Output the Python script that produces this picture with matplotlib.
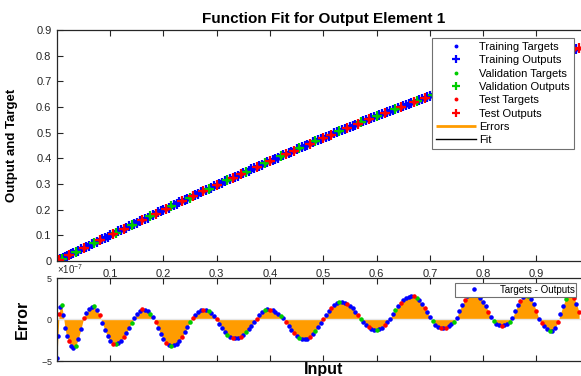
import numpy as np
import matplotlib.pyplot as plt
from matplotlib.ticker import ScalarFormatter

# sample inputs (denser near the start)
inputs = [0.000, 0.002, 0.004, 0.006, 0.009, 0.012, 0.015, 0.018, 0.022, 0.026,
          0.030, 0.035, 0.040, 0.045, 0.050, 0.055, 0.060, 0.065, 0.070, 0.075,
          0.080, 0.085, 0.090, 0.095, 0.100, 0.105, 0.110, 0.115, 0.120, 0.125,
          0.130, 0.135, 0.140, 0.145, 0.150, 0.155, 0.160, 0.165, 0.170, 0.175,
          0.180, 0.185, 0.190, 0.195, 0.200, 0.205, 0.210, 0.215, 0.220, 0.225,
          0.230, 0.235, 0.240, 0.245, 0.250, 0.255, 0.260, 0.265, 0.270, 0.275,
          0.280, 0.285, 0.290, 0.295, 0.300, 0.305, 0.310, 0.315, 0.320, 0.325,
          0.330, 0.335, 0.340, 0.345, 0.350, 0.355, 0.360, 0.365, 0.370, 0.375,
          0.380, 0.385, 0.390, 0.395, 0.400, 0.405, 0.410, 0.415, 0.420, 0.425,
          0.430, 0.435, 0.440, 0.445, 0.450, 0.455, 0.460, 0.465, 0.470, 0.475,
          0.480, 0.485, 0.490, 0.495, 0.500, 0.505, 0.510, 0.515, 0.520, 0.525,
          0.530, 0.535, 0.540, 0.545, 0.550, 0.555, 0.560, 0.565, 0.570, 0.575,
          0.580, 0.585, 0.590, 0.595, 0.600, 0.605, 0.610, 0.615, 0.620, 0.625,
          0.630, 0.635, 0.640, 0.645, 0.650, 0.655, 0.660, 0.665, 0.670, 0.675,
          0.680, 0.685, 0.690, 0.695, 0.700, 0.705, 0.710, 0.715, 0.720, 0.725,
          0.730, 0.735, 0.740, 0.745, 0.750, 0.755, 0.760, 0.765, 0.770, 0.775,
          0.780, 0.785, 0.790, 0.795, 0.800, 0.805, 0.810, 0.815, 0.820, 0.825,
          0.830, 0.835, 0.840, 0.845, 0.850, 0.855, 0.860, 0.865, 0.870, 0.875,
          0.880, 0.885, 0.890, 0.895, 0.900, 0.905, 0.910, 0.915, 0.920, 0.925,
          0.930, 0.935, 0.940, 0.945, 0.950, 0.955, 0.960, 0.965, 0.970, 0.975,
          0.980]

targets = [0.000, 0.002, 0.004, 0.006, 0.009, 0.012, 0.015, 0.018, 0.022, 0.026,
           0.030, 0.035, 0.040, 0.045, 0.050, 0.055, 0.060, 0.065, 0.070, 0.075,
           0.080, 0.085, 0.090, 0.095, 0.100, 0.105, 0.110, 0.115, 0.120, 0.125,
           0.130, 0.135, 0.140, 0.144, 0.149, 0.154, 0.159, 0.164, 0.169, 0.174,
           0.179, 0.184, 0.189, 0.194, 0.199, 0.204, 0.208, 0.213, 0.218, 0.223,
           0.228, 0.233, 0.238, 0.243, 0.247, 0.252, 0.257, 0.262, 0.267, 0.272,
           0.276, 0.281, 0.286, 0.291, 0.296, 0.300, 0.305, 0.310, 0.315, 0.319,
           0.324, 0.329, 0.333, 0.338, 0.343, 0.348, 0.352, 0.357, 0.362, 0.366,
           0.371, 0.375, 0.380, 0.385, 0.389, 0.394, 0.399, 0.403, 0.408, 0.412,
           0.417, 0.421, 0.426, 0.430, 0.435, 0.439, 0.444, 0.448, 0.453, 0.457,
           0.462, 0.466, 0.471, 0.475, 0.479, 0.484, 0.488, 0.492, 0.497, 0.501,
           0.506, 0.510, 0.514, 0.518, 0.523, 0.527, 0.531, 0.535, 0.540, 0.544,
           0.548, 0.552, 0.556, 0.560, 0.565, 0.569, 0.573, 0.577, 0.581, 0.585,
           0.589, 0.593, 0.597, 0.601, 0.605, 0.609, 0.613, 0.617, 0.621, 0.625,
           0.629, 0.633, 0.637, 0.640, 0.644, 0.648, 0.652, 0.656, 0.659, 0.663,
           0.667, 0.671, 0.674, 0.678, 0.682, 0.685, 0.689, 0.692, 0.696, 0.699,
           0.703, 0.706, 0.710, 0.713, 0.717, 0.721, 0.724, 0.727, 0.731, 0.734,
           0.738, 0.741, 0.745, 0.748, 0.751, 0.754, 0.758, 0.761, 0.764, 0.767,
           0.771, 0.774, 0.777, 0.780, 0.783, 0.786, 0.790, 0.793, 0.796, 0.799,
           0.802, 0.805, 0.808, 0.810, 0.813, 0.816, 0.819, 0.822, 0.825, 0.828,
           0.830]

# targets - outputs, in units of 1e-7
errors = [-4.70, -2.00, 0.60, 1.50, 1.70, 0.50, -1.00, -2.00, -2.60, -3.20,
          -3.40, -3.20, -2.40, -1.16, 0.13, 0.76, 1.26, 1.55, 1.56, 1.19,
          0.49, -0.38, -1.27, -2.05, -2.62, -2.95, -2.99, -2.85, -2.57, -2.17,
          -1.65, -1.06, -0.40, 0.21, 0.69, 1.04, 1.20, 1.15, 0.96, 0.65,
          0.26, -0.31, -1.08, -1.78, -2.37, -2.82, -3.10, -3.20, -3.13, -2.92,
          -2.57, -2.12, -1.56, -0.94, -0.27, 0.22, 0.58, 0.87, 1.09, 1.19,
          1.17, 1.02, 0.76, 0.40, 0.00, -0.54, -1.05, -1.51, -1.87, -2.13,
          -2.28, -2.29, -2.22, -2.06, -1.83, -1.53, -1.17, -0.78, -0.35, 0.09,
          0.50, 0.85, 1.09, 1.20, 1.18, 1.08, 0.91, 0.69, 0.42, 0.12,
          -0.30, -0.80, -1.26, -1.66, -1.99, -2.23, -2.37, -2.40, -2.31, -2.11,
          -1.81, -1.41, -0.94, -0.43, 0.09, 0.56, 1.00, 1.38, 1.70, 1.93,
          2.07, 2.10, 2.03, 1.87, 1.63, 1.32, 0.95, 0.53, 0.09, -0.29,
          -0.63, -0.92, -1.14, -1.27, -1.30, -1.21, -1.00, -0.70, -0.32, 0.10,
          0.62, 1.12, 1.58, 1.98, 2.31, 2.57, 2.73, 2.80, 2.76, 2.59,
          2.29, 1.89, 1.40, 0.84, 0.24, -0.25, -0.62, -0.91, -1.07, -1.09,
          -1.00, -0.82, -0.57, -0.26, 0.16, 0.96, 1.69, 2.32, 2.80, 3.10,
          3.20, 3.13, 2.92, 2.57, 2.12, 1.56, 0.94, 0.27, -0.21, -0.51,
          -0.72, -0.80, -0.73, -0.54, -0.26, 0.16, 0.96, 1.68, 2.27, 2.68,
          2.88, 2.84, 2.48, 1.83, 0.97, 0.00, -0.45, -0.85, -1.16, -1.35,
          -1.39, -1.05, -0.34, 0.66, 1.67, 2.48, 2.97, 3.10, 2.60, 1.90,
          0.90]

# T = training, V = validation, S = test
sets = "".join(["TTSTVTTTST", "TVTTSTTTVT", "STTTTSVTTS", "TTVTTTSTTV",
                "TSTTTSTVTT", "TSTTVSTTTS", "TVTTSTTTVT", "STTSTVTTTS",
                "TTVTSTTTVT", "STTSTVTTTS", "TVTTSTTSTT", "VTTSTTTSVT",
                "TSTTVTTSTT", "TVTSTTTTSV", "TTSTTVTTST", "STTVTTTSTT",
                "VTSTTTSTVT", "TSTTVTTTST", "TVTTSTSTTV", "TTSTTVTTST",
                "S"])

plt.rcParams['font.family'] = ['Liberation Sans', 'DejaVu Sans']
plt.rcParams['mathtext.fontset'] = 'custom'
plt.rcParams['mathtext.rm'] = 'Liberation Sans'
plt.rcParams['axes.unicode_minus'] = False

orange = '#ff9c00'
ink = '#262626'
groups = [('T', 'Training', '#0000ff'), ('V', 'Validation', '#00cc00'), ('S', 'Test', '#ff0000')]

x = np.array(inputs)
t = np.array(targets)
e = np.array(errors) * 1e-7
y = t - e
lab = np.array(list(sets))

fig = plt.figure(figsize=(5.81, 3.76), dpi=100)
ax1 = fig.add_axes([0.098, 0.306, 0.917, 0.614])
ax2 = fig.add_axes([0.098, 0.040, 0.917, 0.221])
ax1.set_zorder(3)

# top: outputs and targets
ax1.plot(x, y, color='k', lw=1, zorder=1)
for key, name, col in groups:
    m = lab == key
    ax1.plot(x[m], t[m], '.', color=col, ms=4.5, label=name + ' Targets')
    ax1.plot(x[m], y[m], '+', color=col, ms=7.5, mew=1.6, label=name + ' Outputs')
ax1.vlines(x, y, t, color=orange, lw=2, label='Errors')
ax1.plot([], [], color='k', lw=1, label='Fit')

ax1.set_xlim(0, 1)
ax1.set_ylim(0, 0.9)
ax1.set_xticks([0.1, 0.2, 0.3, 0.4, 0.5, 0.6, 0.7, 0.8, 0.9])
ax1.set_xticklabels(['0.1', '0.2', '0.3', '0.4', '0.5', '0.6', '0.7', '0.8', '0.9'])
ax1.set_yticks([0, 0.1, 0.2, 0.3, 0.4, 0.5, 0.6, 0.7, 0.8, 0.9])
ax1.set_yticklabels(['0', '0.1', '0.2', '0.3', '0.4', '0.5', '0.6', '0.7', '0.8', '0.9'])
ax1.set_title('Function Fit for Output Element 1', fontsize=11, fontweight='bold', pad=5)
ax1.set_ylabel('Output and Target', fontsize=9.5, fontweight='bold')
ax1.yaxis.set_label_coords(-0.073, 0.5)

leg = ax1.legend(loc='upper left', bbox_to_anchor=(0.704, 0.965), fontsize=8,
                 fancybox=False, edgecolor='#707070', framealpha=1, handlelength=3.6,
                 labelspacing=0.3, borderpad=0.35, handletextpad=0.3, borderaxespad=0,
                 markerscale=0.8)
leg.get_frame().set_linewidth(0.8)

# bottom: errors
ax2.fill_between(x, e, 0, color=orange, lw=0)
ax2.axhline(0, color='#e6e6e6', lw=1)
for key, name, col in groups:
    m = lab == key
    ax2.plot(x[m], e[m], '.', color=col, ms=4.5,
             label='Targets - Outputs' if key == 'T' else '_nolegend_')

ax2.set_xlim(0, 1)
ax2.set_ylim(-5e-7, 5e-7)
ax2.set_xticks([0.1, 0.2, 0.3, 0.4, 0.5, 0.6, 0.7, 0.8, 0.9])
ax2.set_yticks([-5e-7, 0, 5e-7])
fmt = ScalarFormatter(useMathText=True)
fmt.set_powerlimits((0, 0))
ax2.yaxis.set_major_formatter(fmt)
ax2.yaxis.get_offset_text().set_fontsize(7)
ax2.yaxis.get_offset_text().set_color(ink)
ax2.set_ylabel('Error', fontsize=11.5, fontweight='bold')
ax2.yaxis.set_label_coords(-0.051, 0.5)
ax2.set_xlabel('Input', fontsize=11.5, fontweight='bold', labelpad=1)

leg2 = ax2.legend(loc='upper left', bbox_to_anchor=(0.747, 0.94), fontsize=7,
                  fancybox=False, edgecolor='#707070', framealpha=1, handlelength=3.6,
                  borderpad=0.2, handletextpad=0.8, borderaxespad=0)
leg2.get_frame().set_linewidth(0.8)

for ax in (ax1, ax2):
    ax.tick_params(direction='in', top=True, right=True, length=4, width=0.8,
                   color=ink, labelcolor=ink, pad=4)
    for s in ax.spines.values():
        s.set_color(ink)
        s.set_linewidth(0.9)
ax1.tick_params(labelsize=8)
ax1.tick_params(axis='x', pad=6)
ax2.tick_params(axis='y', labelsize=6.5, pad=3)
ax2.tick_params(axis='x', labelbottom=False)

fig.savefig('out.png', dpi=100)
